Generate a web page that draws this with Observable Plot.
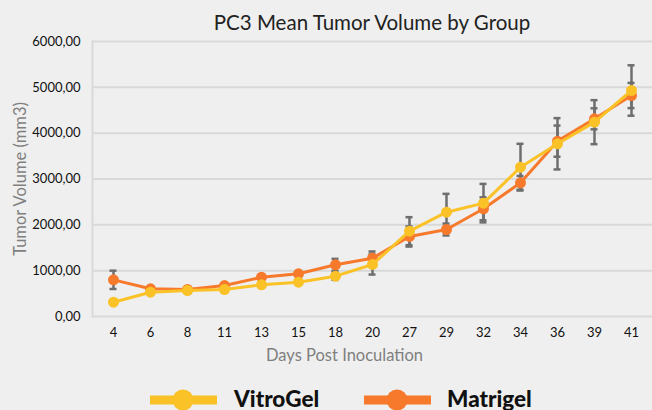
<!DOCTYPE html>
<html>
<head>
<meta charset="utf-8">
<script src="https://cdn.jsdelivr.net/npm/d3@7"></script>
<script src="https://cdn.jsdelivr.net/npm/@observablehq/plot@0.6"></script>
<style>
  html, body { margin: 0; padding: 0; background: #efefef; overflow: hidden; }
  #wrap { position: relative; width: 652px; height: 410px; background: #efefef; font-family: Lato, "Open Sans", sans-serif; }
  #title { box-sizing: border-box; height: 31px; padding-top: 12px; padding-left: 92px; text-align: center; font-size: 20.5px; line-height: 20px; color: #222; white-space: nowrap; }
  #legend { position: relative; height: 32px; }
  .item { position: absolute; top: 0; height: 32px; }
  .item svg { position: absolute; top: 10px; left: 0; }
  .item span { position: absolute; top: 8px; font-weight: 900; font-size: 22.5px; line-height: 26px; color: #111; white-space: nowrap; }
</style>
</head>
<body>
<div id="wrap">
  <div id="title"></div>
  <div id="chart"></div>
  <div id="legend"></div>
</div>
<script>
const titleText = "PC3 Mean Tumor Volume by Group";
const xLabel = "Days Post Inoculation";
const yLabel = "Tumor Volume (mm3)";
const days = ["4","6","8","11","13","15","18","20","27","29","32","34","36","39","41"];
const seriesNames = ["VitroGel", "Matrigel"];
const seriesColors = ["#fac227", "#f77a2c"];
const vitrogel = [312, 530, 567, 589, 691, 749, 880, 1135, 1862, 2276, 2473, 3258, 3768, 4240, 4931];
const matrigel = [800, 604, 589, 676, 858, 931, 1128, 1273, 1746, 1898, 2350, 2917, 3826, 4313, 4822];
const vitrogelErr = [0, 0, 0, 0, 0, 0, 80, 220, 305, 400, 420, 510, 560, 480, 550];
const matrigelErr = [200, 0, 0, 0, 0, 0, 130, 145, 220, 130, 250, 150, 340, 230, 275];
const yTicks = [0, 1000, 2000, 3000, 4000, 5000, 6000];

const rows = [];
days.forEach((d, i) => {
  rows.push({day: d, series: "VitroGel", value: vitrogel[i], err: vitrogelErr[i]});
  rows.push({day: d, series: "Matrigel", value: matrigel[i], err: matrigelErr[i]});
});
const errRows = rows.filter(r => r.err > 0);
const fmt = v => d3.format(".2f")(v).replace(".", ",");
const gray = "#6e6e6e";

document.getElementById("title").textContent = titleText;

const chart = Plot.plot({
  width: 652,
  height: 347,
  marginLeft: 92,
  marginRight: 0,
  marginTop: 10,
  marginBottom: 62,
  style: {background: "#efefef", fontFamily: "Lato, 'Open Sans', sans-serif", fontSize: "13px", color: "#111", overflow: "visible"},
  x: {type: "point", domain: days, padding: 0.5, label: null},
  y: {domain: [0, 6000], label: null},
  color: {domain: seriesNames, range: seriesColors},
  marks: [
    Plot.ruleY(yTicks, {stroke: "#d9d9d9", strokeWidth: 2}),
    Plot.frame({anchor: "left", stroke: "#d9d9d9", strokeWidth: 2}),
    Plot.axisX({tickSize: 0, tickPadding: 11, fontSize: 13, label: null}),
    Plot.axisY({ticks: yTicks, tickSize: 0, tickPadding: 12, tickFormat: fmt, fontSize: 13, label: null}),
    Plot.ruleX(errRows, {x: "day", y1: d => d.value - d.err, y2: d => d.value + d.err, stroke: gray, strokeWidth: 2.5}),
    Plot.ruleY(errRows, {x1: "day", x2: "day", y: d => d.value + d.err, stroke: gray, strokeWidth: 2.5, insetLeft: -3.5, insetRight: -3.5}),
    Plot.ruleY(errRows, {x1: "day", x2: "day", y: d => d.value - d.err, stroke: gray, strokeWidth: 2.5, insetLeft: -3.5, insetRight: -3.5}),
    Plot.line(rows.filter(r => r.series === "Matrigel"), {x: "day", y: "value", stroke: seriesColors[1], strokeWidth: 3}),
    Plot.dot(rows.filter(r => r.series === "Matrigel"), {x: "day", y: "value", fill: seriesColors[1], r: 5.5}),
    Plot.line(rows.filter(r => r.series === "VitroGel"), {x: "day", y: "value", stroke: seriesColors[0], strokeWidth: 3}),
    Plot.dot(rows.filter(r => r.series === "VitroGel"), {x: "day", y: "value", fill: seriesColors[0], r: 5.5}),
    Plot.text([xLabel], {frameAnchor: "bottom", lineAnchor: "middle", textAnchor: "middle", dy: 39, dx: -28, fill: "#7f7f7f", fontSize: 16.5}),
    Plot.text([yLabel], {frameAnchor: "left", rotate: -90, textAnchor: "middle", lineAnchor: "middle", dx: -72, fill: "#7f7f7f", fontSize: 16.5})
  ]
});
document.getElementById("chart").appendChild(chart);

const legend = document.getElementById("legend");
const legendPos = [{sw: 150, tx: 234}, {sw: 364, tx: 447}];
seriesNames.forEach((name, i) => {
  const item = document.createElement("div");
  item.className = "item";
  item.style.left = legendPos[i].sw + "px";
  item.innerHTML = `<svg width="68" height="24"><line x1="0" x2="67" y1="12" y2="12" stroke="${seriesColors[i]}" stroke-width="9"/><circle cx="33" cy="12" r="10.5" fill="${seriesColors[i]}"/></svg><span style="left:${legendPos[i].tx - legendPos[i].sw}px">${name}</span>`;
  legend.appendChild(item);
});
</script>
</body>
</html>
